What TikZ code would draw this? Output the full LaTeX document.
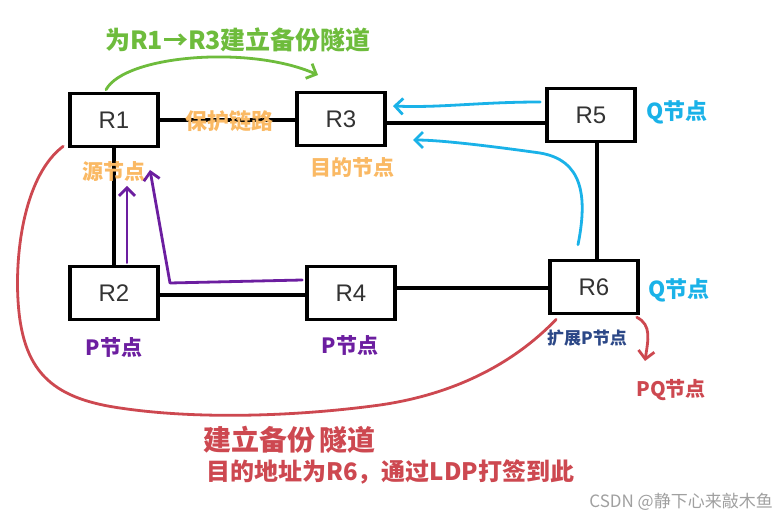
\documentclass[tikz,border=0pt]{standalone}
\usepackage{fontspec}
\setmainfont{Liberation Sans}
\newfontfamily\cjk{Noto Sans CJK SC}
\usetikzlibrary{arrows.meta,calc}
\definecolor{cgreen}{RGB}{110,188,60}
\definecolor{corange}{RGB}{250,185,100}
\definecolor{cblue}{RGB}{26,178,232}
\definecolor{cpurple}{RGB}{108,30,160}
\definecolor{cred}{RGB}{205,72,80}
\definecolor{cnavy}{RGB}{44,72,135}
\definecolor{cwm}{RGB}{160,160,160}
\tikzset{
  router/.style={draw=black, line width=3.6pt, fill=white, minimum width=88pt, minimum height=53pt,
    inner sep=0pt, text=black!80, font=\fontsize{24}{24}\selectfont},
  link/.style={line width=3.4pt, black},
  pen/.style={line width=2.8pt, line cap=round, line join=round},
  barb/.style={-{Straight Barb[length=8pt,width=16pt,line width=2.8pt]}},
  hand/.style={font=\cjk\bfseries\fontsize{#1}{#1}\selectfont, inner sep=0pt},
}
\begin{document}
\begin{tikzpicture}[x=1pt,y=-1pt]
\useasboundingbox[fill=white] (0,0) rectangle (777,521);

% routers
\node[router] (R1) at (114,120) {R1};
\node[router] (R3) at (341,119) {R3};
\node[router] (R5) at (591,115) {R5};
\node[router] (R2) at (114,293) {R2};
\node[router] (R4) at (351,293) {R4};
\node[router] (R6) at (594,287) {R6};

% links
\draw[link] (R1.east) -- (R3.west |- R1.east);
\draw[link] ($(R3.east)+(0,4)$) -- ($(R3.east -| R5.west)+(0,4)$);
\draw[link] (R1.south) -- (R2.north);
\draw[link] ($(R5.south)+(6,0)$) -- ($(R6.north)+(3,0)$);
\draw[link] ($(R2.east)+(0,2)$) -- ($(R2.east -| R4.west)+(0,2)$);
\draw[link] ($(R4.east)+(0,-5)$) -- ($(R4.east -| R6.west)+(0,-5)$);

% green backup-tunnel arrow
\coordinate (gEnd) at (318,75);
\draw[pen, cgreen, barb] ($(R1.north)+(-8,-2)$) .. controls (125,55) and (250,45) .. (gEnd);
\node[hand=25, text=cgreen] (tGreen) at (238,40) {为R1→R3建立备份隧道};

% orange labels
\node[hand=22, text=corange] (tProt) at (229,121) {保护链路};
\node[hand=21, text=corange] (tSrc) at (114,172) {源节点};
\node[hand=21, text=corange] (tDst) at (352,168) {目的节点};

% blue arrows
\coordinate (bEnd1) at (393,106);
\coordinate (bEnd2) at (413,140);
\draw[pen, cblue, barb] ($(R5.west)+(-5,-13)$) .. controls (480,102) and (440,108) .. (bEnd1);
\draw[pen, cblue, barb] ($(R6.north)+(-16,-14)$) .. controls (588,195) and (582,160) .. (540,153)
   .. controls (490,146) and (440,140) .. (bEnd2);
\node[hand=22, text=cblue] (tQ1) at (677,112) {Q节点};
\node[hand=22, text=cblue] (tQ2) at (679,290) {Q节点};

% purple arrows
\coordinate (pEnd1) at (127,186);
\coordinate (pEnd2) at (150,170);
\draw[pen, cpurple, barb] ($(R2.north)+(13,-2)$) -- (pEnd1);
\draw[pen, cpurple, barb] ($(R4.west)+(-3,-13)$) -- (170,283) -- (pEnd2);
\node[hand=21, text=cpurple] (tP1) at (114,347) {P节点};
\node[hand=21, text=cpurple] (tP2) at (350,345) {P节点};

% navy label
\node[hand=17, text=cnavy] (tExt) at (587,338) {扩展P节点};

% red curves
\draw[pen, cred] ($(R1.south west)+(-5,-2)$) .. controls (25,175) and (15,250) .. (18,300)
   .. controls (22,370) and (50,398) .. (120,408)
   .. controls (200,420) and (300,416) .. (380,405)
   .. controls (470,392) and (525,352) .. ($(R6.south west)+(8,4)$);
\coordinate (rEnd) at (645,361);
\draw[pen, cred, barb] ($(R6.south east)+(-3,2)$) .. controls (652,325) and (648,340) .. (rEnd);
\node[hand=20, text=cred] (tPQ) at (671,390) {PQ节点};

\node[hand=28, text=cred, anchor=west] (tB1) at (203,440) {建立备份\,隧道};
\node[hand=24, text=cred, anchor=west] (tB2) at (206,472) {目的地址为R6，通过LDP打签到此};

% watermark
\node[font=\cjk\fontsize{17}{17}\selectfont, text=cwm, anchor=east, inner sep=0pt] (wm) at (773,502) {CSDN @静下心来敲木鱼};
\end{tikzpicture}
\end{document}
